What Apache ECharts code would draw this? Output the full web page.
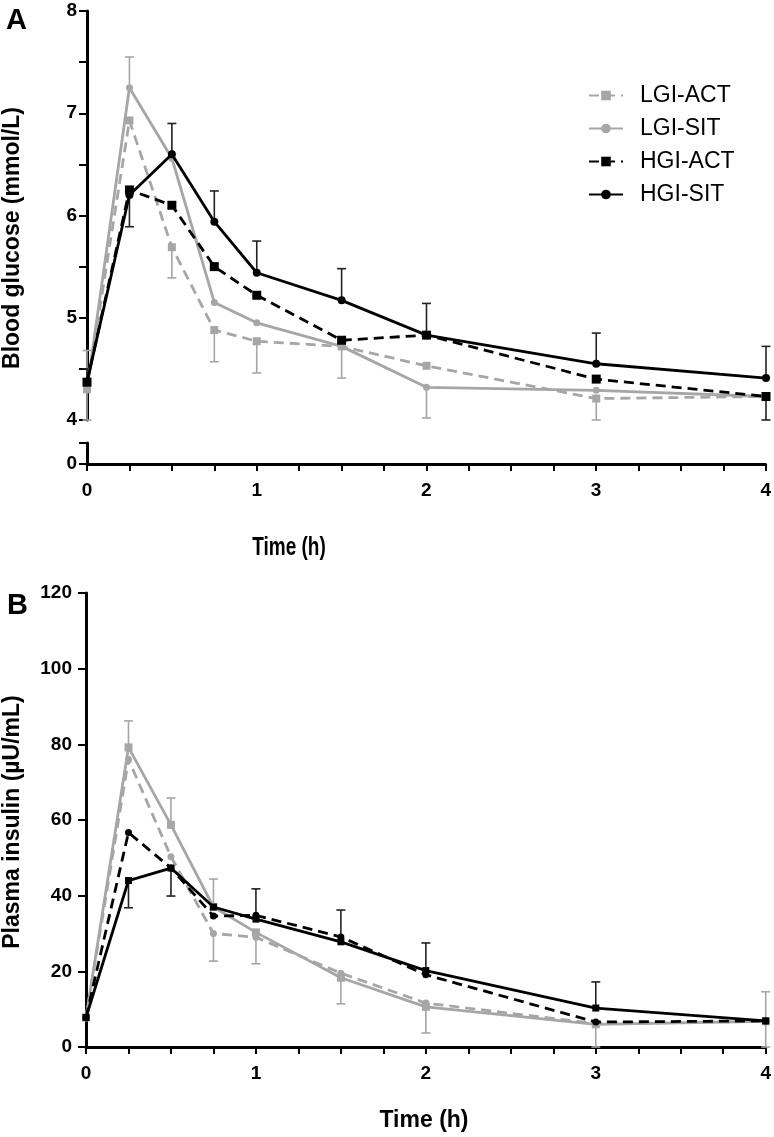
<!DOCTYPE html>
<html>
<head>
<meta charset="utf-8">
<title>Blood glucose and plasma insulin</title>
<script src="https://cdn.jsdelivr.net/npm/echarts@6.0.0/dist/echarts.min.js"></script>
<style>
  html, body { margin: 0; padding: 0; background: #fff; }
  #chart { width: 774px; height: 1137px; }
</style>
</head>
<body>
<div id="chart"></div>
<script>
// sampling times (h)
var times = [0, 0.25, 0.5, 0.75, 1, 1.5, 2, 3, 4];
var seriesNames = ['LGI-ACT', 'LGI-SIT', 'HGI-ACT', 'HGI-SIT'];

// panel A: blood glucose (mmol/L)
var glucoseLgiAct = [4.3, 6.93, 5.69, 4.88, 4.77, 4.72, 4.53, 4.21, 4.23];
var glucoseLgiSit = [4.3, 7.25, 6.56, 5.15, 4.95, 4.72, 4.32, 4.29, 4.23];
var glucoseHgiAct = [4.37, 6.25, 6.1, 5.5, 5.22, 4.78, 4.83, 4.4, 4.23];
var glucoseHgiSit = [4.37, 6.2, 6.6, 5.94, 5.44, 5.17, 4.83, 4.55, 4.41];
// error bar ends (one-sided), null = no bar drawn
var glucoseErrLgiAct = [4.0, null, 5.39, 4.57, 4.46, 4.41, null, 4.0, null];
var glucoseErrLgiSit = [4.68, 7.55, null, null, null, null, 4.02, null, null];
var glucoseErrHgiAct = [null, 5.89, null, null, null, null, null, null, 4.0];
var glucoseErrHgiSit = [4.5, null, 6.9, 6.24, 5.75, 5.48, 5.14, 4.85, 4.72];

// panel B: plasma insulin (µU/mL)
var insulinLgiAct = [7.8, 76, 50.3, 30, 29, 19.5, 11.6, 6.2, 6.8];
var insulinLgiSit = [7.8, 79.2, 58.7, 37, 30.3, 18.3, 10.6, 6, 6.8];
var insulinHgiAct = [7.8, 56.7, 47.3, 34.6, 34.8, 29.1, 19.1, 6.6, 6.9];
var insulinHgiSit = [7.8, 44, 47.3, 37, 33.8, 27.8, 20.2, 10.3, 6.9];
var insulinErrLgiAct = [null, null, null, 22.7, 22, 11.4, 3.7, 0, 0];
var insulinErrLgiSit = [null, 86.2, 65.8, 44.4, null, null, null, null, 14.6];
var insulinErrHgiAct = [null, null, null, null, null, null, null, null, null];
var insulinErrHgiSit = [null, 36.8, 39.9, null, 41.8, 36.2, 27.5, 17.2, null];

var GRAY = '#a6a6a6';
var BLACK = '#000';
var FONT = '"Liberation Sans", Arial, sans-serif';
var NARROW = '"Liberation Sans Narrow", "Arial Narrow", "Liberation Sans", sans-serif';

function pairs(vals) {
  return times.map(function (t, i) { return [t, vals[i]]; });
}

function errPairs(vals, ends) {
  var out = [];
  times.forEach(function (t, i) {
    if (ends[i] !== null) out.push([t, vals[i], ends[i]]);
  });
  return out;
}

function lineSeries(name, vals, opts, axis) {
  return {
    name: name,
    type: 'line',
    xAxisIndex: axis,
    yAxisIndex: axis,
    data: pairs(vals),
    symbol: opts.symbol,
    symbolSize: opts.size,
    itemStyle: { color: opts.color },
    lineStyle: { color: opts.color, width: 2.8, type: opts.dashed ? [10, 6] : 'solid' },
    z: opts.z,
    animation: false
  };
}

function errSeries(vals, ends, color, axis) {
  return {
    type: 'custom',
    xAxisIndex: axis,
    yAxisIndex: axis,
    data: errPairs(vals, ends),
    encode: { x: 0, y: [1, 2] },
    z: 1,
    silent: true,
    animation: false,
    renderItem: function (params, api) {
      var p1 = api.coord([api.value(0), api.value(1)]);
      var p2 = api.coord([api.value(0), api.value(2)]);
      var style = { stroke: color, lineWidth: 1.6 };
      return {
        type: 'group',
        children: [
          { type: 'line', shape: { x1: p1[0], y1: p1[1], x2: p2[0], y2: p2[1] }, style: style },
          { type: 'line', shape: { x1: p2[0] - 4.5, y1: p2[1], x2: p2[0] + 4.5, y2: p2[1] }, style: style }
        ]
      };
    }
  };
}

var axisLine = { show: true, lineStyle: { color: BLACK, width: 3 } };
var intLabel = function (v) { return Number.isInteger(v) ? String(v) : ''; };

function xAxisFor(grid, show, margin, family) {
  return {
    gridIndex: grid, type: 'value', min: 0, max: 4, interval: 0.25, show: show,
    axisLine: axisLine,
    axisTick: { show: true, length: 7, lineStyle: { color: BLACK, width: 2 } },
    axisLabel: { formatter: intLabel, color: BLACK, fontSize: 19, fontWeight: 'bold', fontFamily: family, margin: margin },
    splitLine: { show: false }
  };
}

function yLabel(formatter, margin) {
  return { formatter: formatter, color: BLACK, fontSize: 19, fontWeight: 'bold', fontFamily: FONT, margin: margin };
}

var chart = echarts.init(document.getElementById('chart'), null, { renderer: 'canvas' });

var option = {
  backgroundColor: '#fff',
  animation: false,
  textStyle: { fontFamily: FONT },
  grid: [
    { left: 87, top: 11, width: 679, height: 409 },   // A upper segment (4-8)
    { left: 87, top: 443, width: 679, height: 21 },   // A lower segment (0)
    { left: 86, top: 593, width: 680, height: 454 }   // B
  ],
  xAxis: [
    xAxisFor(0, false, 8, FONT),
    xAxisFor(1, true, 17, NARROW),
    xAxisFor(2, true, 17, FONT)
  ],
  yAxis: [
    {
      gridIndex: 0, type: 'value', min: 4, max: 8, interval: 0.5,
      axisLine: axisLine,
      axisTick: { show: true, length: 8, lineStyle: { color: BLACK, width: 2 } },
      axisLabel: yLabel(intLabel, 10),
      splitLine: { show: false }
    },
    {
      gridIndex: 1, type: 'value', min: 0, max: 1, interval: 1,
      axisLine: axisLine,
      axisTick: { show: true, length: 8, lineStyle: { color: BLACK, width: 2 } },
      axisLabel: yLabel(function (v) { return v === 0 ? '0' : ''; }, 10),
      splitLine: { show: false }
    },
    {
      gridIndex: 2, type: 'value', min: 0, max: 120, interval: 20,
      axisLine: axisLine,
      axisTick: { show: true, length: 8, lineStyle: { color: BLACK, width: 2 } },
      axisLabel: yLabel(null, 14),
      splitLine: { show: false }
    }
  ],
  legend: {
    data: seriesNames,
    orient: 'vertical',
    left: 583,
    top: 79,
    padding: 5,
    itemWidth: 34,
    itemHeight: 12,
    itemGap: 10,
    selectedMode: false,
    textStyle: { fontSize: 23, color: BLACK, fontFamily: FONT, padding: [0, 0, 0, 12] }
  },
  graphic: [
    { type: 'text', left: 6, top: 6, style: { text: 'A', fontSize: 29, fontWeight: 'bold', fill: BLACK, fontFamily: FONT } },
    { type: 'text', left: 7, top: 591, style: { text: 'B', fontSize: 29, fontWeight: 'bold', fill: BLACK, fontFamily: FONT } },
    { type: 'text', x: 13, y: 238, rotation: Math.PI / 2,
      style: { text: 'Blood glucose (mmol/L)', fontSize: 23, fontWeight: 'bold', fill: BLACK, fontFamily: FONT, align: 'center', verticalAlign: 'middle' } },
    { type: 'text', x: 13, y: 822, rotation: Math.PI / 2,
      style: { text: 'Plasma insulin (µU/mL)', fontSize: 23, fontWeight: 'bold', fill: BLACK, fontFamily: FONT, align: 'center', verticalAlign: 'middle' } },
    { type: 'text', x: 289, y: 548, scaleX: 0.76,
      style: { text: 'Time (h)', fontSize: 25, fontWeight: 'bold', fill: BLACK, fontFamily: FONT, align: 'center', verticalAlign: 'middle' } },
    { type: 'text', x: 424, y: 1121,
      style: { text: 'Time (h)', fontSize: 23, fontWeight: 'bold', fill: BLACK, fontFamily: FONT, align: 'center', verticalAlign: 'middle' } }
  ],
  series: [
    // panel A error bars
    errSeries(glucoseLgiAct, glucoseErrLgiAct, GRAY, 0),
    errSeries(glucoseLgiSit, glucoseErrLgiSit, GRAY, 0),
    errSeries(glucoseHgiAct, glucoseErrHgiAct, '#222', 0),
    errSeries(glucoseHgiSit, glucoseErrHgiSit, '#222', 0),
    // panel A lines
    lineSeries('LGI-ACT', glucoseLgiAct, { symbol: 'rect', size: 8, color: GRAY, dashed: true, z: 2 }, 0),
    lineSeries('LGI-SIT', glucoseLgiSit, { symbol: 'circle', size: 7, color: GRAY, dashed: false, z: 3 }, 0),
    lineSeries('HGI-ACT', glucoseHgiAct, { symbol: 'rect', size: 9, color: BLACK, dashed: true, z: 4 }, 0),
    lineSeries('HGI-SIT', glucoseHgiSit, { symbol: 'circle', size: 8, color: BLACK, dashed: false, z: 5 }, 0),
    // panel B error bars
    errSeries(insulinLgiAct, insulinErrLgiAct, GRAY, 2),
    errSeries(insulinLgiSit, insulinErrLgiSit, GRAY, 2),
    errSeries(insulinHgiAct, insulinErrHgiAct, '#222', 2),
    errSeries(insulinHgiSit, insulinErrHgiSit, '#222', 2),
    // panel B lines
    lineSeries('LGI-ACT', insulinLgiAct, { symbol: 'circle', size: 7, color: GRAY, dashed: true, z: 2 }, 2),
    lineSeries('LGI-SIT', insulinLgiSit, { symbol: 'rect', size: 8, color: GRAY, dashed: false, z: 3 }, 2),
    lineSeries('HGI-ACT', insulinHgiAct, { symbol: 'circle', size: 7, color: BLACK, dashed: true, z: 4 }, 2),
    lineSeries('HGI-SIT', insulinHgiSit, { symbol: 'rect', size: 7, color: BLACK, dashed: false, z: 5 }, 2)
  ]
};

chart.setOption(option);
</script>
</body>
</html>
